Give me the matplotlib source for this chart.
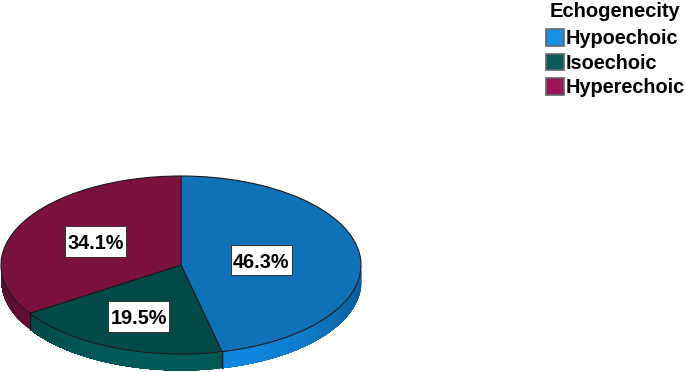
import numpy as np
import matplotlib
matplotlib.use("Agg")
import matplotlib.pyplot as plt
from matplotlib.colors import to_rgb
from matplotlib.patches import Patch
from matplotlib.path import Path

categories = ["Hypoechoic", "Isoechoic", "Hyperechoic"]
shares = [46.3, 19.5, 34.1]
legend_title = "Echogenecity"

top_colors = ["#0f72b8", "#024a48", "#7b123e"]
side_colors = ["#1088e0", "#005a58", "#7e1242"]
legend_colors = ["#1a8fe6", "#0a5c5c", "#9b1457"]
label_radius = [0.45, 0.63, 0.54]

W, H = 685, 372
plt.rcParams["font.family"] = ["Liberation Sans", "DejaVu Sans"]
fig = plt.figure(figsize=(W / 100, H / 100), dpi=100)

left, right, top, centre_y, ry, depth = 1, 361, 176, 265, 89, 16
bottom = centre_y + ry + depth + 1
ax = fig.add_axes([left / W, 1 - bottom / H, (right - left) / W, (bottom - top) / H])
d = depth / ry

fractions = np.array(shares) / sum(shares)
edges = 90 - 360 * np.concatenate([[0], np.cumsum(fractions)])

# rim, drawn from the slice angles; each strip runs on under the next to avoid seams
for i, (a0, a1) in enumerate(zip(edges[:-1], edges[1:])):
    t = np.linspace(a0, a1, 120)
    t = t[np.sin(np.radians(t)) <= 0.0]
    if t.size < 2:
        continue
    base = np.array(to_rgb(side_colors[i]))
    for j in range(t.size - 1):
        seg = np.radians(t[j:])
        x = np.cos(seg)
        y = np.sin(seg)
        order = np.argsort(x)
        mid = np.cos(np.radians((t[j] + t[j + 1]) / 2))
        shade = 0.68 + 0.32 * (1 - abs(mid) ** 3)
        ax.fill_between(x[order], (y - d)[order], y[order], color=base * shade, lw=0)
    for a in (a0, a1):
        ra = np.radians(a)
        if np.sin(ra) < 0 and a != edges[-1]:
            ax.plot([np.cos(ra)] * 2, [np.sin(ra), np.sin(ra) - d], color="#111111", lw=0.9)

wedges, _ = ax.pie(
    shares, colors=top_colors, startangle=90, counterclock=False, radius=1,
    normalize=True, wedgeprops=dict(edgecolor="#1a1a1a", linewidth=0.8),
)
ax.set_aspect("auto")
ax.set_xlim(-1, 1)
ax.set_ylim(-(bottom - centre_y) / ry, (centre_y - top) / ry)
ax.axis("off")


def label_box(x0, y0, width, height, mutation_size):
    px = 0.10 * mutation_size
    low = 0.16 * mutation_size
    high = 0.42 * mutation_size
    return Path([(x0 - px, y0 - low), (x0 + width + px, y0 - low),
                 (x0 + width + px, y0 + height + high), (x0 - px, y0 + height + high),
                 (x0 - px, y0 - low)], closed=True)


for share, a0, a1, r in zip(shares, edges[:-1], edges[1:], label_radius):
    m = np.radians((a0 + a1) / 2)
    ax.annotate(f"{share:.1f}%", (r * np.cos(m), r * np.sin(m)), xytext=(0, -1.4),
                textcoords="offset points", ha="center", va="center",
                fontsize=14.3, fontweight="bold", color="black",
                bbox=dict(facecolor="white", edgecolor="#333333", linewidth=0.7,
                          boxstyle=label_box))

handles = [Patch(facecolor=c, edgecolor="#666666", linewidth=1.2) for c in legend_colors]
leg = fig.legend(handles, categories, title=legend_title, loc="upper left",
                 bbox_to_anchor=(543 / W, 1 + 1 / H), frameon=False,
                 prop=dict(size=14.3, weight="bold"),
                 title_fontproperties=dict(size=14.5, weight="bold"),
                 handlelength=0.9, handleheight=0.9, handletextpad=0.1,
                 labelspacing=0.27, borderpad=0.15, borderaxespad=0)
leg._legend_box.sep = 6
fig.savefig("out.png", dpi=100)
